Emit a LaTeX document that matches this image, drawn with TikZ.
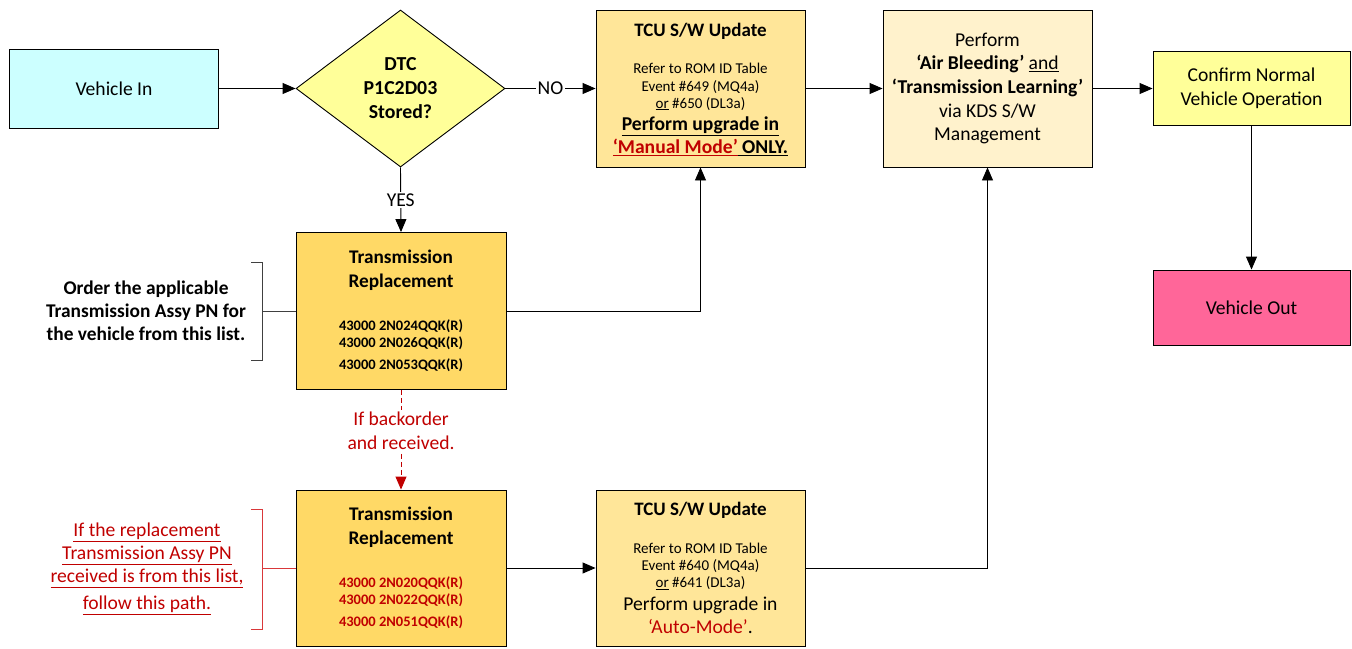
\documentclass[tikz,border=0pt]{standalone}
\usepackage{fontspec}
\setmainfont{Carlito}
\usetikzlibrary{shapes.geometric,arrows.meta}
\definecolor{cyanfill}{HTML}{CCFFFF}
\definecolor{yelfill}{HTML}{FFFF99}
\definecolor{tcufill}{HTML}{FFE699}
\definecolor{perffill}{HTML}{FFF2CC}
\definecolor{pinkfill}{HTML}{FF6699}
\definecolor{trfill}{HTML}{FFD966}
\definecolor{dred}{HTML}{C00000}
\definecolor{brgray}{HTML}{404040}
\definecolor{brred}{HTML}{D9383A}
\newcommand{\fsz}[2]{\fontsize{#1}{#2}\selectfont}
\newcommand{\myul}[1]{\underline{#1\vphantom{gp}}}
\begin{document}
\begin{tikzpicture}[x=1pt,y=-1pt,
  box/.style={draw=black,line width=0.9pt,rectangle,inner sep=0pt,align=center,font=\fsz{19.6}{23}},
  arr/.style={line width=0.9pt,-{Triangle[length=13pt,width=11pt]}},
  conn/.style={line width=0.9pt},
  lbl/.style={fill=white,inner sep=1.5pt,font=\fsz{19.6}{23}}
]
\useasboundingbox (0,0) rectangle (1352,648);

% nodes
\node[box,fill=cyanfill,minimum width=209pt,minimum height=79pt] (vin) at (114,88.5) {Vehicle In};
\node[diamond,draw=black,line width=0.9pt,fill=yelfill,minimum width=209pt,minimum height=157pt,inner sep=0pt,align=center,font=\fsz{19.8}{24}\bfseries] (dtc) at (400.5,88.5) {DTC\\P1C2D03\\Stored?};
\node[box,fill=tcufill,minimum width=209pt,minimum height=157pt,text depth=0pt] (tcu1) at (700.5,88.5)
 {{\fsz{19}{22}\bfseries TCU S/W Update}\\[13.5pt]
  {\fsz{15}{17}Refer to ROM ID Table}\\[-5pt]
  {\fsz{15}{17}Event \#649 (MQ4a)}\\[-6pt]
  {\fsz{15}{17}\underline{or} \#650 (DL3a)}\\[-0.5pt]
  {\bfseries\underline{Perform upgrade in}}\\
  {\bfseries{\color{dred}\underline{‘Manual Mode’}}\underline{\ ONLY.}}};
\node[box,fill=perffill,minimum width=209pt,minimum height=157pt,font=\fsz{19.6}{23.6}] (perf) at (987.5,88.5)
 {Perform\\\textbf{‘Air Bleeding’} \underline{and}\\\textbf{‘Transmission Learning’}\\via KDS S/W\\Management};
\node[box,fill=yelfill,minimum width=197pt,minimum height=74pt,font=\fsz{19.6}{24}] (conf) at (1251.5,88.5) {Confirm Normal\\Vehicle Operation};
\node[box,fill=pinkfill,minimum width=197pt,minimum height=75pt] (vout) at (1251.5,307.5) {Vehicle Out};

\node[box,fill=trfill,minimum width=210pt,minimum height=157pt,font=\fsz{19.3}{24}\bfseries] (tr1) at (401,311)
 {Transmission\\Replacement\\[19pt]
  {\fsz{14.5}{17}43000 2N024QQK(R)}\\[-7pt]
  {\fsz{14.5}{17}43000 2N026QQK(R)}\\[-2pt]
  {\fsz{14.5}{17}43000 2N053QQK(R)}};
\node[box,fill=trfill,minimum width=210pt,minimum height=156pt,font=\fsz{19.3}{24}\bfseries] (tr2) at (401,568)
 {Transmission\\Replacement\\[19pt]
  {\fsz{14.5}{17}\color{dred}43000 2N020QQK(R)}\\[-7pt]
  {\fsz{14.5}{17}\color{dred}43000 2N022QQK(R)}\\[-2pt]
  {\fsz{14.5}{17}\color{dred}43000 2N051QQK(R)}};
\node[box,fill=tcufill,minimum width=209pt,minimum height=156pt] (tcu2) at (700.5,568)
 {{\fsz{19}{22}\bfseries TCU S/W Update}\\[14.5pt]
  {\fsz{15}{17}Refer to ROM ID Table}\\[-6pt]
  {\fsz{15}{17}Event \#640 (MQ4a)}\\[-6pt]
  {\fsz{15}{17}\underline{or} \#641 (DL3a)}\\
  Perform upgrade in\\
  {\color{dred}‘Auto-Mode’}.};

% side notes
\node[align=center,font=\fsz{19.4}{23}\bfseries] (ordertxt) at (146,311)
 {Order the applicable\\Transmission Assy PN for\\the vehicle from this list.};
\node[align=center,font=\fsz{19.6}{23},text=dred] (iftxt) at (147,569)
 {\myul{If the replacement}\\\myul{Transmission Assy PN}\\\myul{received is from this list,}\\[4pt]\myul{follow this path.}};

% brackets
\draw[conn,brgray] (251,262) -- (262,262) -- (262,360) -- (251,360);
\coordinate (br1) at (262,311);
\draw[conn,brgray] (br1) -- (tr1.west);
\draw[conn,brred] (251,509) -- (262,509) -- (262,629) -- (251,629);
\coordinate (br2) at (262,568);
\draw[conn,brred] (br2) -- (tr2.west);

% connectors
\draw[arr] (vin.east) -- (dtc.west);
\draw[arr] (dtc.east) -- node[lbl]{NO} (tcu1.west);
\draw[arr] (dtc.south) -- node[lbl]{YES} (tr1.north);
\draw[arr] (tr1.east) -| (tcu1.south);
\draw[arr,dred,dash pattern=on 5pt off 3pt] (tr1.south) -- node[lbl,pos=0.41,text=dred,align=center,font=\fsz{19.6}{24}]{If backorder\\and received.} (tr2.north);
\draw[arr] (tr2.east) -- (tcu2.west);
\draw[arr] (tcu2.east) -| (perf.south);
\draw[arr] (tcu1.east) -- (perf.west);
\draw[arr] (perf.east) -- (conf.west);
\draw[arr] (conf.south) -- (vout.north);
\end{tikzpicture}
\end{document}
